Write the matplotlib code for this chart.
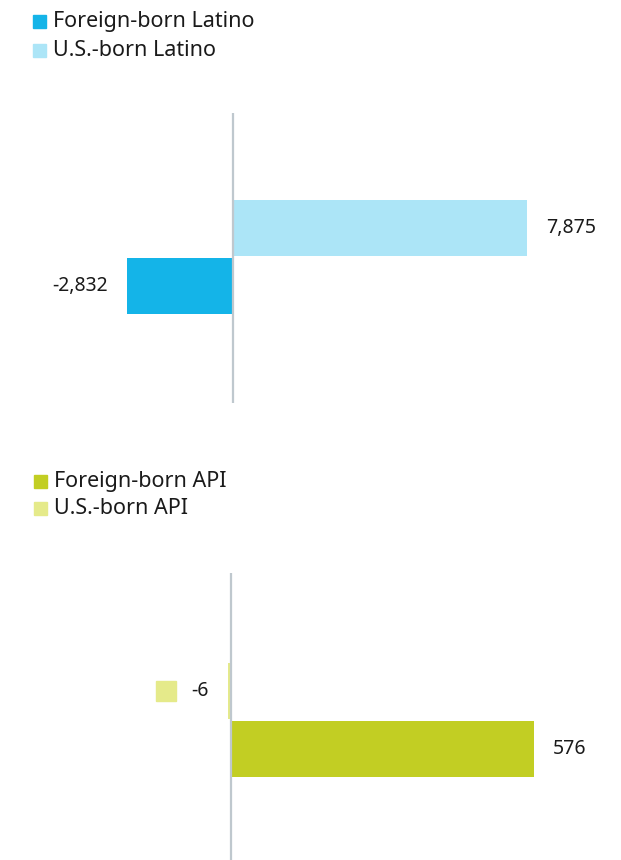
import matplotlib.pyplot as plt
from matplotlib.patches import Rectangle

plt.rcParams['font.family'] = ['Noto Sans', 'DejaVu Sans']

# Latino panel
latino_labels = ['U.S.-born Latino', 'Foreign-born Latino']
latino_values = [7875, -2832]
latino_colors = ['#ACE5F7', '#14B4E8']

# API panel
api_labels = ['U.S.-born API', 'Foreign-born API']
api_values = [-6, 576]
api_colors = ['#E5EA8A', '#C2CE23']

W, H = 621, 860
fig = plt.figure(figsize=(W / 100, H / 100), dpi=100)


def px_axes(x0, y0, x1, y1):
    # pixel box (top-left origin) -> figure fraction axes
    return fig.add_axes([x0 / W, 1 - y1 / H, (x1 - x0) / W, (y1 - y0) / H])


def draw_panel(ax, labels, values, colors, zero_px, px_per_unit, ylim, fmt):
    left = -zero_px / px_per_unit
    right = (W - zero_px) / px_per_unit
    ax.barh(range(len(values)), values, height=0.965, color=colors)
    ax.set_xlim(left, right)
    ax.set_ylim(*ylim)
    ax.axvline(0, color='#BFC8CE', lw=1.6, zorder=3)
    gap = 19 / px_per_unit
    for i, v in enumerate(values):
        if v >= 0:
            ax.text(v + gap, i, fmt(v), ha='left', va='center', fontsize=14, color='#1a1a1a')
        else:
            ax.text(v - gap, i, fmt(v), ha='right', va='center', fontsize=14, color='#1a1a1a')
    ax.axis('off')


def draw_legend(labels, colors, x_sq, y_rows, size=13):
    for lab, col, yc in zip(labels, colors, y_rows):
        fig.patches.append(Rectangle(((x_sq) / W, 1 - (yc + size / 2) / H), size / W, size / H,
                                     transform=fig.transFigure, color=col))
        fig.text((x_sq + size + 7) / W, 1 - yc / H, lab, ha='left', va='center',
                 fontsize=15.5, color='#1a1a1a')


fmt = lambda v: f'{v:,}'

ax1 = px_axes(0, 113, W, 403)
draw_panel(ax1, latino_labels, latino_values, latino_colors, 233, 294 / 7875, (3.02, -1.98), fmt)

ax2 = px_axes(0, 573, W, 860)
draw_panel(ax2, api_labels, api_values, api_colors, 231, 303 / 576, (2.91, -2.03), fmt)

# legends: foreign-born listed first
draw_legend(latino_labels[::-1], latino_colors[::-1], 33, [21, 50])
draw_legend(api_labels[::-1], api_colors[::-1], 34, [481, 508])

# stray swatch next to the -6 label
fig.patches.append(Rectangle((156 / W, 1 - 701 / H), 20 / W, 20 / H,
                             transform=fig.transFigure, color=api_colors[0]))

fig.savefig('out.png', dpi=100)
